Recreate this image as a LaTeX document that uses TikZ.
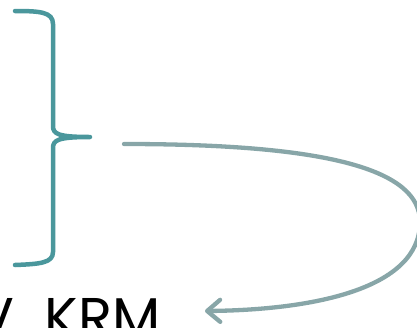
\documentclass[tikz,border=0pt]{standalone}
\usepackage{fontspec}
\setmainfont{Poppins}
\usetikzlibrary{arrows.meta}
\usetikzlibrary{positioning}
\definecolor{braceteal}{HTML}{4A979C}
\definecolor{loopgrey}{HTML}{88A6A8}

\begin{document}
\begin{tikzpicture}[x=1pt, y=-1pt]
	\useasboundingbox (0,0) rectangle (417,327);
	\clip (0,0) rectangle (417,327);
	% brace
	\draw[braceteal, line width=4.5pt, line cap=round, line join=round]
		(15,11) .. controls (40,11) and (53,12) .. (53,24) -- (53,126)
		.. controls (53,134) and (58,137) .. (90,137)
		.. controls (58,137) and (53,140) .. (53,148) -- (53,252)
		.. controls (53,263) and (40,264) .. (15,265);
	\coordinate (loopstart) at (124,144);
	\node[anchor=base east, inner sep=0pt, font=\fontsize{56}{66}\selectfont] (krm) at (161,337) {V\hspace{0.55em}KRM};
	\coordinate (loopend) at (205,311);
	% loop back
	\draw[loopgrey, line width=4.3pt, line cap=round, -{Straight Barb[length=13pt,width=22pt,round]}]
		(loopstart) .. controls (330,144) and (420,170) .. (420,222)
		.. controls (420,290) and (310,310) .. (loopend);
\end{tikzpicture}
\end{document}
